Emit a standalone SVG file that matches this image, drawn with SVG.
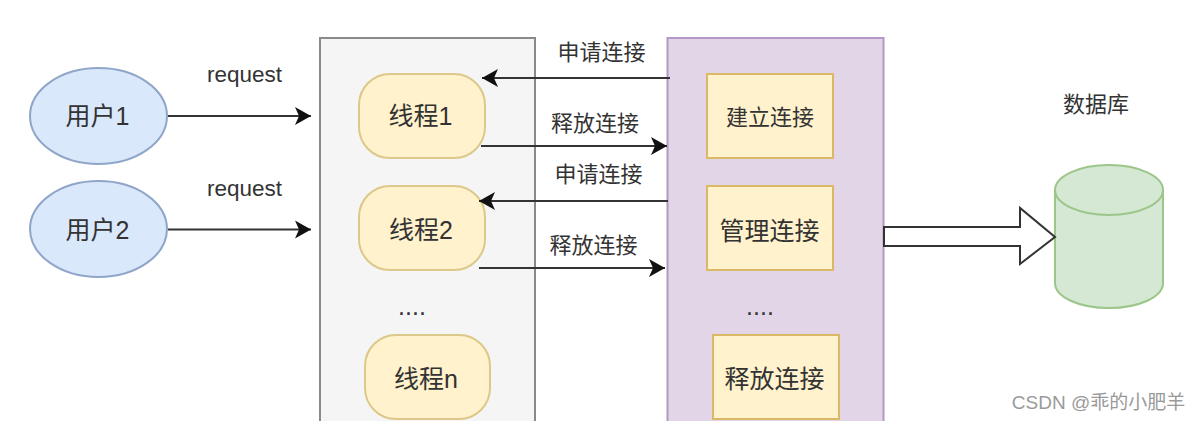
<svg xmlns="http://www.w3.org/2000/svg" width="1200" height="421" viewBox="0 0 1200 421">
<style>
text{font-family:"Liberation Sans","Noto Sans CJK SC",sans-serif;fill:#333;text-anchor:middle}
.user{fill:#dae8fc;stroke:#8fa6c9;stroke-width:2}
.thread{fill:#fff2cc;stroke:#dcc888;stroke-width:2}
.box{fill:#fff2cc;stroke:#dbb866;stroke-width:2}
.db{fill:#d5e8d4;stroke:#9cc58a;stroke-width:2}
.t25{font-size:25px}.t22{font-size:22px}
.c{stroke:#333;stroke-width:2;fill:none;marker-end:url(#arr)}
</style>
<defs>
<marker id="arr" markerUnits="userSpaceOnUse" markerWidth="18" markerHeight="20" refX="16" refY="10" orient="auto">
<path d="M0 1L16 10L0 19L4 10Z" fill="#111"/>
</marker>
</defs>
<rect width="1200" height="421" fill="#fff"/>
<g id="thread-pool"><rect x="320" y="38" width="215" height="400" fill="#f5f5f5" stroke="#8a8a8a" stroke-width="2"/><text x="412" y="315" class="t25">....</text></g>
<g id="conn-pool"><rect x="667.500" y="38" width="216" height="400" fill="#e1d5e7" stroke="#b497c2" stroke-width="2"/><text x="760" y="315" class="t25">....</text></g>
<g id="user1"><ellipse cx="98.500" cy="116" rx="68.500" ry="48" class="user"/><text x="97.500" y="125" class="t25">用户1</text></g>
<g id="user2"><ellipse cx="98.500" cy="229" rx="68.500" ry="48" class="user"/><text x="97.500" y="239" class="t25">用户2</text></g>
<g id="label-req1"><text x="244.500" y="82" style="font-size:22.500px">request</text></g>
<g id="label-req2"><text x="244.500" y="196" style="font-size:22.500px">request</text></g>
<g id="thread1"><rect x="359" y="74" width="126" height="84" rx="31" class="thread"/><text x="420.500" y="125" class="t25">线程1</text></g>
<g id="thread2"><rect x="359" y="186" width="126" height="84" rx="31" class="thread"/><text x="421" y="239" class="t25">线程2</text></g>
<g id="threadn"><rect x="365" y="335" width="125" height="84" rx="31" class="thread"/><text x="426" y="388" class="t25">线程n</text></g>
<g id="box1"><rect x="707" y="74" width="126" height="84" class="box"/><text x="770" y="125" class="t22">建立连接</text></g>
<g id="box2"><rect x="707" y="186" width="126" height="84" class="box"/><text x="769.500" y="240" class="t25">管理连接</text></g>
<g id="box3"><rect x="713" y="335" width="126" height="84" class="box"/><text x="774.500" y="388" class="t25">释放连接</text></g>
<g id="database">
<path d="M1055 190V283C1055 297 1079 308 1109 308S1163 297 1163 283V190" class="db"/>
<ellipse cx="1109" cy="190" rx="54" ry="25" class="db"/>
</g>
<g id="label-db"><text x="1096" y="112" class="t22">数据库</text></g>
<g id="labels">
<text x="601.500" y="60" class="t22">申请连接</text>
<text x="595" y="131" class="t22">释放连接</text>
<text x="598.500" y="182" class="t22">申请连接</text>
<text x="593.500" y="253" class="t22">释放连接</text>
</g>
<g id="connectors">
<line class="c" x1="168" y1="116" x2="311" y2="116"/>
<line class="c" x1="168" y1="229.500" x2="311" y2="229.500"/>
<line class="c" x1="670" y1="78" x2="482" y2="78"/>
<line class="c" x1="481" y1="146" x2="667" y2="146"/>
<line class="c" x1="668" y1="201" x2="479" y2="201"/>
<line class="c" x1="479" y1="268" x2="665" y2="268"/>
<path id="block-arrow" d="M884 227H1020V208L1055 237L1020 264V246H884Z" fill="#fff" stroke="#333" stroke-width="2"/>
</g>
<text id="watermark" x="1098.500" y="409" style="font-size:19px;fill:#9a9a9a">CSDN @乖的小肥羊</text>
</svg>
